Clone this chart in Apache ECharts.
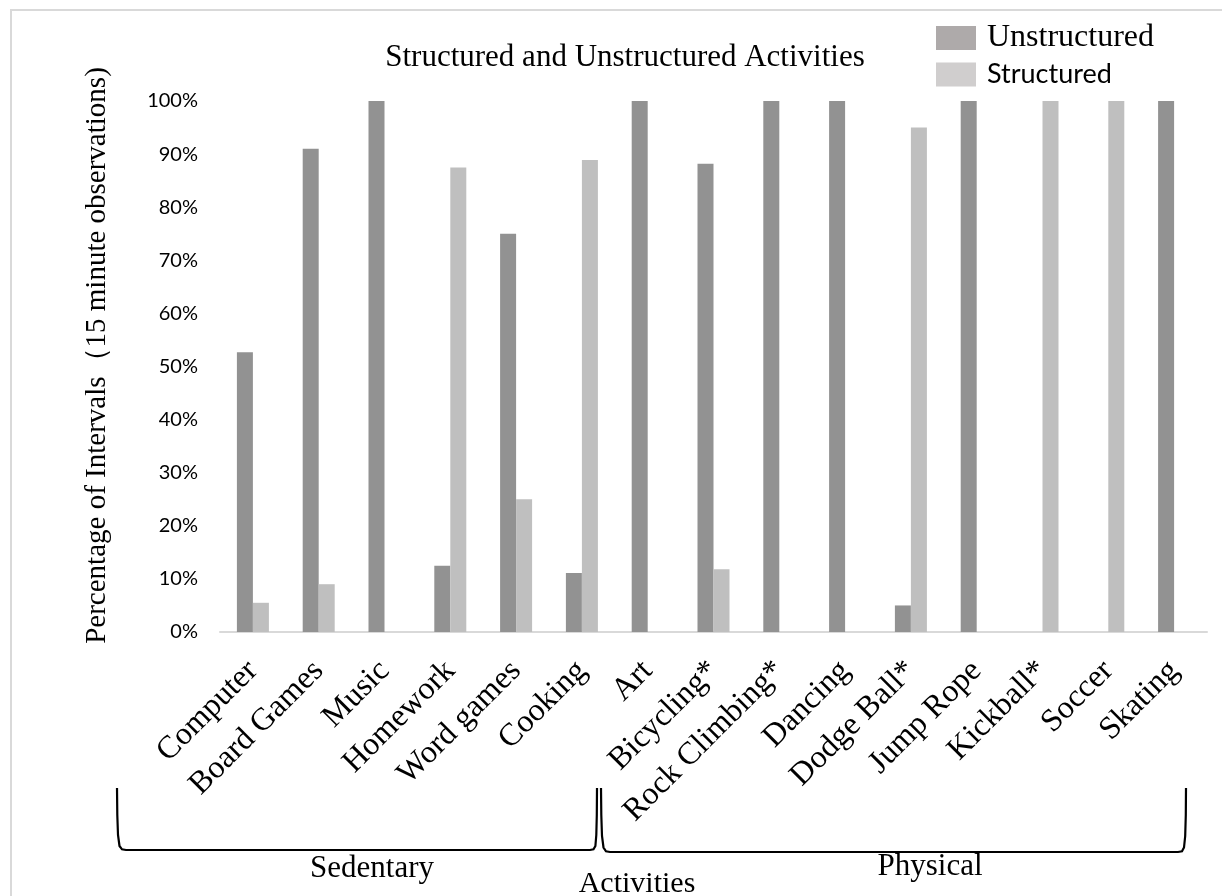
<!DOCTYPE html>
<html>
<head>
<meta charset="utf-8">
<script src="https://cdn.jsdelivr.net/npm/echarts@6/dist/echarts.min.js"></script>
<style>
  html, body { margin: 0; padding: 0; background: #fff; }
  #chart { width: 1222px; height: 896px; }
</style>
</head>
<body>
<div id="chart"></div>
<script>
const categories = ['Computer', 'Board Games', 'Music', 'Homework', 'Word games', 'Cooking', 'Art',
  'Bicycling*', 'Rock Climbing*', 'Dancing', 'Dodge Ball*', 'Jump Rope', 'Kickball*', 'Soccer', 'Skating'];
const unstructured = [52.7, 91, 100, 12.5, 75, 11.1, 100, 88.2, 100, 100, 5, 100, 0, 0, 100];
const structured   = [5.5, 9, 0, 87.5, 25, 88.9, 0, 11.8, 0, 0, 95, 0, 100, 100, 0];
const yTicks = { min: 0, max: 100, interval: 10 };
const groupLabels = ['Sedentary', 'Physical'];
const axisTitleX = 'Activities';
const axisTitleY = 'Percentage of Intervals（15 minute observations)';
const chartTitle = 'Structured and Unstructured Activities';

const serif = '"Liberation Serif", "Times New Roman", serif';
const sans = 'Lato, "Open Sans", sans-serif';

const chart = echarts.init(document.getElementById('chart'), null, { renderer: 'canvas' });

const bracketStyle = { stroke: '#000', lineWidth: 2.2, fill: null };
const leftBracket = [[117,788],[117.3,815],[118,835],[119.5,846],[122,849.3],[126,850],
  [590,850],[593.5,849.3],[595.4,846],[596.3,835],[596.8,815],[597,788]];
const rightBracket = [[601,788],[601.3,815],[602,836],[603.5,847.5],[606,851.3],[610,852],
  [1178,852],[1182,851.3],[1184,847.5],[1185.2,836],[1185.8,815],[1186,788]];

chart.setOption({
  animation: false,
  backgroundColor: '#fff',
  title: {
    text: chartTitle,
    left: 620, top: 53, textAlign: 'center', textVerticalAlign: 'middle',
    textStyle: { fontFamily: serif, fontWeight: 'normal', fontSize: 31, color: '#000' }
  },
  legend: {
    orient: 'vertical',
    left: 936, top: 22, padding: 0,
    itemWidth: 40, itemHeight: 24, itemGap: 7,
    icon: 'rect',
    data: [
      { name: 'Unstructured', itemStyle: { color: '#aeaaaa' },
        textStyle: { fontFamily: serif, fontSize: 32, color: '#000', padding: [0, 0, 0, 6] } },
      { name: 'Structured', itemStyle: { color: '#d0cece' },
        textStyle: { fontFamily: sans, fontSize: 27, color: '#000', padding: [0, 0, 0, 6] } }
    ]
  },
  grid: { left: 220, right: 15, top: 101, bottom: 264, containLabel: false },
  xAxis: {
    type: 'category',
    data: categories,
    boundaryGap: true,
    axisLine: { show: true, lineStyle: { color: '#d9d9d9', width: 2 } },
    axisTick: { show: false },
    axisLabel: {
      interval: 0, rotate: 45, margin: 34,
      padding: [20, 0, 0, 0],
      fontFamily: serif, fontSize: 32, color: '#000'
    },
    splitLine: { show: false }
  },
  yAxis: {
    type: 'value',
    min: yTicks.min, max: yTicks.max, interval: yTicks.interval,
    axisLine: { show: false },
    axisTick: { show: false },
    splitLine: { show: false },
    axisLabel: {
      formatter: '{value}%', margin: 22,
      fontFamily: sans, fontSize: 20, color: '#000'
    },
    name: axisTitleY,
    nameLocation: 'middle',
    nameGap: 108,
    nameRotate: 90,
    nameTextStyle: { fontFamily: serif, fontSize: 29, color: '#000', padding: [0, 0, 0, 22] }
  },
  series: [
    {
      name: 'Unstructured', type: 'bar', data: unstructured,
      barWidth: 16, barGap: '0%',
      itemStyle: { color: '#929292' }
    },
    {
      name: 'Structured', type: 'bar', data: structured,
      barWidth: 16, barGap: '0%',
      itemStyle: { color: '#bfbfbf' }
    }
  ],
  graphic: [
    { type: 'rect', silent: true, z: -1,
      shape: { x: 11, y: 10, width: 1240, height: 920 },
      style: { fill: null, stroke: '#d9d9d9', lineWidth: 2 } },
    { type: 'polyline', silent: true, shape: { points: leftBracket }, style: bracketStyle },
    { type: 'polyline', silent: true, shape: { points: rightBracket }, style: bracketStyle },
    { type: 'text', silent: true, x: 372, y: 869,
      style: { text: groupLabels[0], fontFamily: serif, fontSize: 31, fill: '#000', align: 'center', verticalAlign: 'middle' } },
    { type: 'text', silent: true, x: 930, y: 867,
      style: { text: groupLabels[1], fontFamily: serif, fontSize: 31, fill: '#000', align: 'center', verticalAlign: 'middle' } },
    { type: 'text', silent: true, x: 637, y: 884,
      style: { text: axisTitleX, fontFamily: serif, fontSize: 30, fill: '#000', align: 'center', verticalAlign: 'middle' } }
  ]
});
</script>
</body>
</html>
